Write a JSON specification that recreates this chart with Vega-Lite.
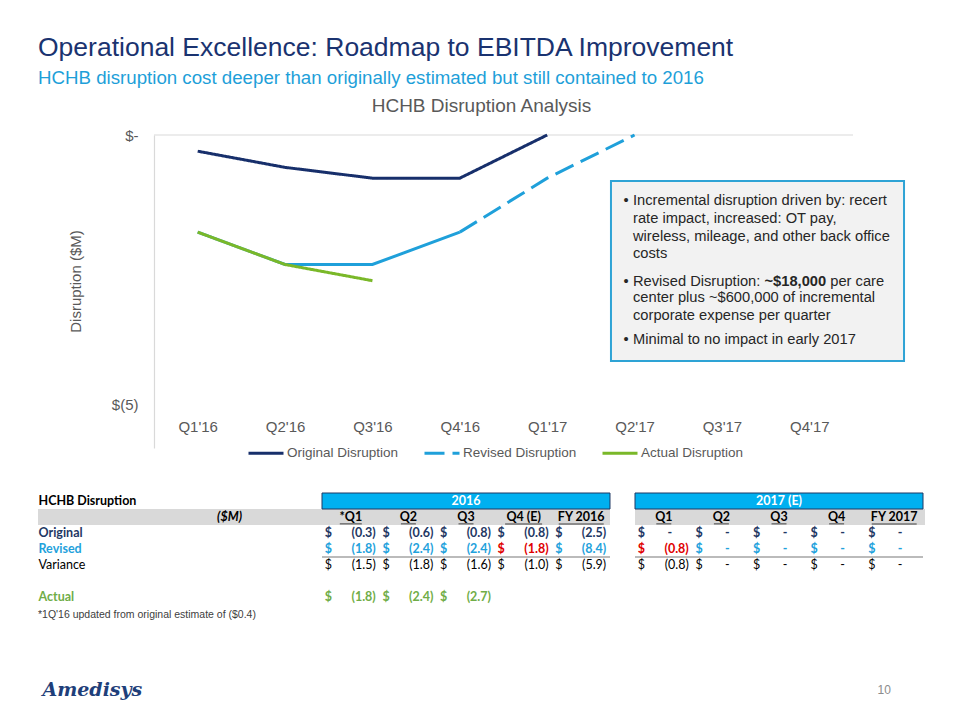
{
  "$schema": "https://vega.github.io/schema/vega-lite/v6.json",
  "padding": {"left": 38, "top": 34, "right": 0, "bottom": 0},
  "background": "white",
  "title": {
    "text": "Operational Excellence: Roadmap to EBITDA Improvement",
    "subtitle": "HCHB disruption cost deeper than originally estimated but still contained to 2016",
    "anchor": "start",
    "frame": "group",
    "font": "Liberation Sans",
    "fontSize": 26.5,
    "fontWeight": "normal",
    "color": "#1A3370",
    "subtitleFont": "Liberation Sans",
    "subtitleFontSize": 18.7,
    "subtitleColor": "#1E9FD9",
    "subtitlePadding": 8,
    "offset": 9
  },
  "datasets": {
    "lines": [
      {"quarter": "Q1'16", "series": "Original Disruption", "value": -0.3},
      {"quarter": "Q2'16", "series": "Original Disruption", "value": -0.6},
      {"quarter": "Q3'16", "series": "Original Disruption", "value": -0.8},
      {"quarter": "Q4'16", "series": "Original Disruption", "value": -0.8},
      {"quarter": "Q1'17", "series": "Original Disruption", "value": 0},
      {"quarter": "Q1'16", "series": "Revised Disruption", "value": -1.8},
      {"quarter": "Q2'16", "series": "Revised Disruption", "value": -2.4},
      {"quarter": "Q3'16", "series": "Revised Disruption", "value": -2.4},
      {"quarter": "Q4'16", "series": "Revised Disruption", "value": -1.8},
      {"quarter": "Q1'17", "series": "Revised Disruption", "value": -0.8},
      {"quarter": "Q2'17", "series": "Revised Disruption", "value": 0},
      {"quarter": "Q1'16", "series": "Actual Disruption", "value": -1.8},
      {"quarter": "Q2'16", "series": "Actual Disruption", "value": -2.4},
      {"quarter": "Q3'16", "series": "Actual Disruption", "value": -2.7}
    ],
    "table": [
      {"row": "Original", "year": "2016", "col": "Q1", "value": -0.3},
      {"row": "Original", "year": "2016", "col": "Q2", "value": -0.6},
      {"row": "Original", "year": "2016", "col": "Q3", "value": -0.8},
      {"row": "Original", "year": "2016", "col": "Q4", "value": -0.8},
      {"row": "Original", "year": "2016", "col": "FY", "value": -2.5},
      {"row": "Revised", "year": "2016", "col": "Q1", "value": -1.8},
      {"row": "Revised", "year": "2016", "col": "Q2", "value": -2.4},
      {"row": "Revised", "year": "2016", "col": "Q3", "value": -2.4},
      {"row": "Revised", "year": "2016", "col": "Q4", "value": -1.8},
      {"row": "Revised", "year": "2016", "col": "FY", "value": -8.4},
      {"row": "Variance", "year": "2016", "col": "Q1", "value": -1.5},
      {"row": "Variance", "year": "2016", "col": "Q2", "value": -1.8},
      {"row": "Variance", "year": "2016", "col": "Q3", "value": -1.6},
      {"row": "Variance", "year": "2016", "col": "Q4", "value": -1.0},
      {"row": "Variance", "year": "2016", "col": "FY", "value": -5.9},
      {"row": "Actual", "year": "2016", "col": "Q1", "value": -1.8},
      {"row": "Actual", "year": "2016", "col": "Q2", "value": -2.4},
      {"row": "Actual", "year": "2016", "col": "Q3", "value": -2.7},
      {"row": "Original", "year": "2017 (E)", "col": "Q1", "value": 0},
      {"row": "Original", "year": "2017 (E)", "col": "Q2", "value": 0},
      {"row": "Original", "year": "2017 (E)", "col": "Q3", "value": 0},
      {"row": "Original", "year": "2017 (E)", "col": "Q4", "value": 0},
      {"row": "Original", "year": "2017 (E)", "col": "FY", "value": 0},
      {"row": "Revised", "year": "2017 (E)", "col": "Q1", "value": -0.8},
      {"row": "Revised", "year": "2017 (E)", "col": "Q2", "value": 0},
      {"row": "Revised", "year": "2017 (E)", "col": "Q3", "value": 0},
      {"row": "Revised", "year": "2017 (E)", "col": "Q4", "value": 0},
      {"row": "Revised", "year": "2017 (E)", "col": "FY", "value": 0},
      {"row": "Variance", "year": "2017 (E)", "col": "Q1", "value": -0.8},
      {"row": "Variance", "year": "2017 (E)", "col": "Q2", "value": 0},
      {"row": "Variance", "year": "2017 (E)", "col": "Q3", "value": 0},
      {"row": "Variance", "year": "2017 (E)", "col": "Q4", "value": 0},
      {"row": "Variance", "year": "2017 (E)", "col": "FY", "value": 0}
    ],
    "headers": [
      {"year": "2016", "col": "Q1", "label": "*Q1"},
      {"year": "2016", "col": "Q2", "label": "Q2"},
      {"year": "2016", "col": "Q3", "label": "Q3"},
      {"year": "2016", "col": "Q4", "label": "Q4 (E)"},
      {"year": "2016", "col": "FY", "label": "FY 2016"},
      {"year": "2017 (E)", "col": "Q1", "label": "Q1"},
      {"year": "2017 (E)", "col": "Q2", "label": "Q2"},
      {"year": "2017 (E)", "col": "Q3", "label": "Q3"},
      {"year": "2017 (E)", "col": "Q4", "label": "Q4"},
      {"year": "2017 (E)", "col": "FY", "label": "FY 2017"}
    ],
    "years": [{"year": "2016"}, {"year": "2017 (E)"}]
  },
  "resolve": {
    "scale": {"color": "independent", "strokeDash": "independent"},
    "legend": {"color": "independent", "strokeDash": "independent"}
  },
  "bounds": "flush",
  "spacing": 45,
  "vconcat": [
    {
      "width": 887,
      "height": 313,
      "title": {"text": "HCHB Disruption Analysis", "font": "Liberation Sans", "fontSize": 19, "fontWeight": "normal", "color": "#595959", "anchor": "middle", "frame": "group", "offset": 12},
      "resolve": {"scale": {"x": "independent"}, "axis": {"x": "independent"}},
      "layer": [
        {
          "layer": [
            {
              "data": {"values": [{"line": "zero"}]},
              "mark": {"type": "rule", "color": "#D9D9D9", "strokeWidth": 1.2},
              "encoding": {
                "x": {"datum": -0.5, "type": "quantitative", "scale": {"domain": [-0.5, 7.5], "range": [116, 815]}, "axis": null},
                "x2": {"datum": 7.5},
                "y": {"datum": 0, "type": "quantitative", "scale": {"domain": [-5.8, 0], "nice": false, "zero": false}}
              }
            },
            {
              "data": {"values": [{"box": "note"}]},
              "mark": {"type": "rect", "fill": "#F2F2F2", "stroke": "#2EA3D5", "strokeWidth": 2},
              "encoding": {
                "x": {"datum": 4.73, "type": "quantitative", "scale": {"domain": [-0.5, 7.5], "range": [116, 815]}, "axis": null},
                "x2": {"datum": 8.084},
                "y": {"datum": -0.852, "type": "quantitative", "scale": {"domain": [-5.8, 0], "nice": false, "zero": false}},
                "y2": {"datum": -4.19}
              }
            },
            {
              "data": {"values": [{"text": "•"}]},
              "mark": {"type": "text", "align": "left", "baseline": "alphabetic", "font": "Liberation Sans", "fontSize": 14.7, "color": "#262626"},
              "encoding": {
                "x": {"datum": 4.872, "type": "quantitative", "scale": {"domain": [-0.5, 7.5], "range": [116, 815]}, "axis": null},
                "y": {"datum": -1.297, "type": "quantitative", "scale": {"domain": [-5.8, 0], "nice": false, "zero": false}},
                "text": {"field": "text"}
              }
            },
            {
              "data": {"values": [{"text": "•"}]},
              "mark": {"type": "text", "align": "left", "baseline": "alphabetic", "font": "Liberation Sans", "fontSize": 14.7, "color": "#262626"},
              "encoding": {
                "x": {"datum": 4.872, "type": "quantitative", "scale": {"domain": [-0.5, 7.5], "range": [116, 815]}, "axis": null},
                "y": {"datum": -2.798, "type": "quantitative", "scale": {"domain": [-5.8, 0], "nice": false, "zero": false}},
                "text": {"field": "text"}
              }
            },
            {
              "data": {"values": [{"text": "•"}]},
              "mark": {"type": "text", "align": "left", "baseline": "alphabetic", "font": "Liberation Sans", "fontSize": 14.7, "color": "#262626"},
              "encoding": {
                "x": {"datum": 4.872, "type": "quantitative", "scale": {"domain": [-0.5, 7.5], "range": [116, 815]}, "axis": null},
                "y": {"datum": -3.878, "type": "quantitative", "scale": {"domain": [-5.8, 0], "nice": false, "zero": false}},
                "text": {"field": "text"}
              }
            },
            {
              "data": {"values": [{"text": "Incremental disruption driven by: recert\nrate impact, increased: OT pay,\nwireless, mileage, and other back office\ncosts"}]},
              "mark": {"type": "text", "align": "left", "baseline": "alphabetic", "lineBreak": "\n", "lineHeight": 17.8, "font": "Liberation Sans", "fontSize": 14.7, "color": "#262626"},
              "encoding": {
                "x": {"datum": 4.982, "type": "quantitative", "scale": {"domain": [-0.5, 7.5], "range": [116, 815]}, "axis": null},
                "y": {"datum": -1.297, "type": "quantitative", "scale": {"domain": [-5.8, 0], "nice": false, "zero": false}},
                "text": {"field": "text"}
              }
            },
            {
              "data": {"values": [{"text": "Revised Disruption:"}]},
              "mark": {"type": "text", "align": "left", "baseline": "alphabetic", "font": "Liberation Sans", "fontSize": 14.7, "color": "#262626"},
              "encoding": {
                "x": {"datum": 4.982, "type": "quantitative", "scale": {"domain": [-0.5, 7.5], "range": [116, 815]}, "axis": null},
                "y": {"datum": -2.798, "type": "quantitative", "scale": {"domain": [-5.8, 0], "nice": false, "zero": false}},
                "text": {"field": "text"}
              }
            },
            {
              "data": {"values": [{"text": "~$18,000"}]},
              "mark": {"type": "text", "align": "left", "baseline": "alphabetic", "font": "Liberation Sans", "fontWeight": "bold", "fontSize": 14.7, "color": "#262626"},
              "encoding": {
                "x": {"datum": 6.487, "type": "quantitative", "scale": {"domain": [-0.5, 7.5], "range": [116, 815]}, "axis": null},
                "y": {"datum": -2.798, "type": "quantitative", "scale": {"domain": [-5.8, 0], "nice": false, "zero": false}},
                "text": {"field": "text"}
              }
            },
            {
              "data": {"values": [{"text": "per care"}]},
              "mark": {"type": "text", "align": "left", "baseline": "alphabetic", "font": "Liberation Sans", "fontSize": 14.7, "color": "#262626"},
              "encoding": {
                "x": {"datum": 7.24, "type": "quantitative", "scale": {"domain": [-0.5, 7.5], "range": [116, 815]}, "axis": null},
                "y": {"datum": -2.798, "type": "quantitative", "scale": {"domain": [-5.8, 0], "nice": false, "zero": false}},
                "text": {"field": "text"}
              }
            },
            {
              "data": {"values": [{"text": "center plus ~$600,000 of incremental\ncorporate expense per quarter"}]},
              "mark": {"type": "text", "align": "left", "baseline": "alphabetic", "lineBreak": "\n", "lineHeight": 17.8, "font": "Liberation Sans", "fontSize": 14.7, "color": "#262626"},
              "encoding": {
                "x": {"datum": 4.982, "type": "quantitative", "scale": {"domain": [-0.5, 7.5], "range": [116, 815]}, "axis": null},
                "y": {"datum": -3.1, "type": "quantitative", "scale": {"domain": [-5.8, 0], "nice": false, "zero": false}},
                "text": {"field": "text"}
              }
            },
            {
              "data": {"values": [{"text": "Minimal to no impact in early 2017"}]},
              "mark": {"type": "text", "align": "left", "baseline": "alphabetic", "font": "Liberation Sans", "fontSize": 14.7, "color": "#262626"},
              "encoding": {
                "x": {"datum": 4.982, "type": "quantitative", "scale": {"domain": [-0.5, 7.5], "range": [116, 815]}, "axis": null},
                "y": {"datum": -3.878, "type": "quantitative", "scale": {"domain": [-5.8, 0], "nice": false, "zero": false}},
                "text": {"field": "text"}
              }
            }
          ]
        },
        {
          "data": {"name": "lines"},
          "layer": [
            {
              "transform": [{"filter": {"and": [{"field": "series", "equal": "Revised Disruption"}, {"field": "quarter", "oneOf": ["Q1'16", "Q2'16", "Q3'16", "Q4'16"]}]}}],
              "mark": {"type": "line", "strokeWidth": 3, "color": "#1FA0DA"},
              "encoding": {
                "x": {"field": "quarter", "type": "ordinal", "scale": {"type": "point", "domain": ["Q1'16", "Q2'16", "Q3'16", "Q4'16", "Q1'17", "Q2'17", "Q3'17", "Q4'17"], "range": [116, 815], "padding": 0.5}, "axis": {"title": null, "offset": -31, "domain": false, "ticks": false, "labelPadding": 2, "labelAngle": 0, "labelFont": "Liberation Sans", "labelFontSize": 15, "labelColor": "#595959"}},
                "y": {"field": "value", "type": "quantitative", "scale": {"domain": [-5.8, 0], "nice": false, "zero": false}, "axis": {"values": [0, -5], "labelExpr": "datum.value == 0 ? '$-' : '$(' + abs(datum.value) + ')'", "offset": -116, "domainColor": "#D9D9D9", "domainWidth": 1.2, "ticks": false, "grid": false, "labelPadding": 16, "labelFont": "Liberation Sans", "labelFontSize": 15, "labelColor": "#595959", "title": "Disruption ($M)", "titleFont": "Liberation Sans", "titleFontSize": 15, "titleFontWeight": "normal", "titleColor": "#595959", "titlePadding": 28, "titleY": 146}}
              }
            },
            {
              "transform": [{"filter": {"or": [{"not": {"field": "series", "equal": "Revised Disruption"}}, {"field": "quarter", "oneOf": ["Q4'16", "Q1'17", "Q2'17"]}]}}],
              "mark": {"type": "line", "strokeWidth": 3},
              "encoding": {
                "x": {"field": "quarter", "type": "ordinal", "scale": {"type": "point", "domain": ["Q1'16", "Q2'16", "Q3'16", "Q4'16", "Q1'17", "Q2'17", "Q3'17", "Q4'17"], "range": [116, 815], "padding": 0.5}, "axis": {"title": null, "offset": -31, "domain": false, "ticks": false, "labelPadding": 2, "labelAngle": 0, "labelFont": "Liberation Sans", "labelFontSize": 15, "labelColor": "#595959"}},
                "y": {"field": "value", "type": "quantitative", "scale": {"domain": [-5.8, 0], "nice": false, "zero": false}},
                "color": {"field": "series", "type": "nominal", "scale": {"domain": ["Original Disruption", "Revised Disruption", "Actual Disruption"], "range": ["#172F6B", "#1FA0DA", "#7AB829"]}, "legend": {"title": null, "orient": "none", "legendX": 209, "legendY": 299, "direction": "horizontal", "symbolType": "stroke", "symbolStrokeWidth": 3, "symbolSize": 1225, "labelFont": "Liberation Sans", "labelFontSize": 13.5, "labelColor": "#595959", "labelOffset": 2, "columnPadding": 19}},
                "strokeDash": {"field": "series", "type": "nominal", "scale": {"domain": ["Original Disruption", "Revised Disruption", "Actual Disruption"], "range": [[1, 0], [20, 8], [1, 0]]}, "legend": {"title": null, "orient": "none", "legendX": 209, "legendY": 299, "direction": "horizontal", "symbolType": "stroke", "symbolStrokeWidth": 3, "symbolSize": 1225, "labelFont": "Liberation Sans", "labelFontSize": 13.5, "labelColor": "#595959", "labelOffset": 2, "columnPadding": 19}}
              }
            }
          ]
        }
      ]
    },
    {
      "width": 887,
      "height": 112,
      "title": {"text": "*1Q'16 updated from original estimate of ($0.4)", "orient": "bottom", "anchor": "start", "frame": "group", "font": "Liberation Sans", "fontSize": 10.5, "fontWeight": "normal", "color": "#404040", "offset": 5},
      "layer": [
        {
          "data": {"values": [{"row": "($M)"}]},
          "mark": {"type": "bar", "color": "#D9D9D9"},
          "encoding": {
            "y": {"field": "row", "type": "nominal", "scale": {"type": "band", "domain": ["HCHB Disruption", "($M)", "Original", "Revised", "Variance", "", "Actual"], "paddingInner": 0, "paddingOuter": 0}, "axis": {"title": null, "domain": false, "ticks": false, "tickSize": 0, "labelPadding": 0, "labelAlign": "left", "labelBaseline": "middle", "zindex": 2, "labelExpr": "datum.value == '($M)' ? '' : datum.value", "labelFont": "Lato", "labelFontSize": 12.5, "labelFontWeight": {"condition": {"test": "datum.value == 'Variance'", "value": "normal"}, "value": "bold"}, "labelColor": {"condition": [{"test": "datum.value == 'Original'", "value": "#1F3864"}, {"test": "datum.value == 'Revised'", "value": "#1FA2DC"}, {"test": "datum.value == 'Actual'", "value": "#70AD47"}], "value": "#000000"}}}
          }
        },
        {
          "data": {"values": [{"row": "($M)"}]},
          "mark": {"type": "rect", "color": "white"},
          "encoding": {
            "y": {"field": "row", "type": "nominal"},
            "x": {"datum": "2016", "type": "nominal", "bandPosition": 1, "scale": {"type": "band", "domain": ["2016", "2017 (E)"], "range": [284, 885], "paddingInner": 0.0799, "paddingOuter": 0}, "axis": null},
            "x2": {"datum": "2017 (E)", "bandPosition": 0}
          }
        },
        {
          "data": {"name": "years"},
          "mark": {"type": "rect", "fill": "#00B0F0", "stroke": "#1F3864", "strokeWidth": 1},
          "encoding": {
            "x": {"field": "year", "type": "nominal", "scale": {"type": "band", "domain": ["2016", "2017 (E)"], "range": [284, 885], "paddingInner": 0.0799, "paddingOuter": 0}, "axis": null},
            "y": {"datum": "HCHB Disruption", "type": "nominal"}
          }
        },
        {
          "data": {"name": "years"},
          "mark": {"type": "text", "font": "Lato", "fontWeight": "bold", "fontSize": 12.5, "color": "white"},
          "encoding": {
            "x": {"field": "year", "type": "nominal"},
            "y": {"datum": "HCHB Disruption", "type": "nominal"},
            "text": {"field": "year"}
          }
        },
        {
          "data": {"values": [{"unit": "($M)"}]},
          "mark": {"type": "text", "align": "right", "dx": -80, "font": "Lato", "fontWeight": "bold", "fontStyle": "italic", "fontSize": 12.5, "color": "#000000"},
          "encoding": {
            "x": {"datum": "2016", "type": "nominal", "bandPosition": 0},
            "y": {"field": "unit", "type": "nominal"},
            "text": {"field": "unit"}
          }
        },
        {
          "data": {"name": "headers"},
          "mark": {"type": "text", "font": "Lato", "fontWeight": "bold", "fontSize": 12.5, "color": "#000000"},
          "encoding": {
            "x": {"field": "year", "type": "nominal"},
            "xOffset": {"field": "col", "type": "nominal", "scale": {"type": "band", "domain": ["Q1", "Q2", "Q3", "Q4", "FY"], "paddingInner": 0, "paddingOuter": 0}},
            "y": {"datum": "($M)", "type": "nominal"},
            "text": {"field": "label"}
          }
        },
        {
          "data": {"name": "headers"},
          "mark": {"type": "tick", "orient": "horizontal", "thickness": 1, "color": "#000000"},
          "encoding": {
            "x": {"field": "year", "type": "nominal"},
            "xOffset": {"field": "col", "type": "nominal"},
            "y": {"datum": "($M)", "type": "nominal", "bandPosition": 0.93},
            "size": {"condition": [{"test": "datum.label == 'FY 2016' || datum.label == 'FY 2017'", "value": 45}, {"test": "datum.label == 'Q4 (E)'", "value": 37}, {"test": "datum.label == '*Q1'", "value": 22}], "value": 15}
          }
        },
        {
          "data": {"name": "table"},
          "transform": [{"filter": {"not": {"field": "row", "equal": "Variance"}}}],
          "mark": {"type": "text", "align": "left", "dx": -26, "font": "Lato", "fontWeight": "bold", "fontSize": 12.5},
          "encoding": {
            "x": {"field": "year", "type": "nominal"},
            "xOffset": {"field": "col", "type": "nominal"},
            "y": {"field": "row", "type": "nominal"},
            "text": {"value": "$"},
            "color": {"condition": {"test": "datum.row == 'Revised' && ((datum.year == '2016' && datum.col == 'Q4') || (datum.year == '2017 (E)' && datum.col == 'Q1'))", "value": "#E00000"}, "field": "row", "type": "nominal", "scale": {"domain": ["Original", "Revised", "Variance", "Actual"], "range": ["#1F3864", "#1FA2DC", "#000000", "#70AD47"]}, "legend": null}
          }
        },
        {
          "data": {"name": "table"},
          "transform": [{"filter": "datum.row != 'Variance' && datum.value != 0"}],
          "mark": {"type": "text", "align": "right", "dx": 25, "font": "Lato", "fontWeight": "bold", "fontSize": 12.5},
          "encoding": {
            "x": {"field": "year", "type": "nominal"},
            "xOffset": {"field": "col", "type": "nominal"},
            "y": {"field": "row", "type": "nominal"},
            "text": {"field": "value", "type": "quantitative", "format": "(.1f"},
            "color": {"condition": {"test": "datum.row == 'Revised' && ((datum.year == '2016' && datum.col == 'Q4') || (datum.year == '2017 (E)' && datum.col == 'Q1'))", "value": "#E00000"}, "field": "row", "type": "nominal", "legend": null}
          }
        },
        {
          "data": {"name": "table"},
          "transform": [{"filter": "datum.row != 'Variance' && datum.value == 0"}],
          "mark": {"type": "text", "align": "center", "dx": 6, "font": "Lato", "fontWeight": "bold", "fontSize": 12.5},
          "encoding": {
            "x": {"field": "year", "type": "nominal"},
            "xOffset": {"field": "col", "type": "nominal"},
            "y": {"field": "row", "type": "nominal"},
            "text": {"value": "-"},
            "color": {"field": "row", "type": "nominal", "legend": null}
          }
        },
        {
          "data": {"name": "table"},
          "transform": [{"filter": {"field": "row", "equal": "Variance"}}],
          "mark": {"type": "text", "align": "left", "dx": -26, "font": "Lato", "fontSize": 12.5, "color": "#000000"},
          "encoding": {
            "x": {"field": "year", "type": "nominal"},
            "xOffset": {"field": "col", "type": "nominal"},
            "y": {"field": "row", "type": "nominal"},
            "text": {"value": "$"}
          }
        },
        {
          "data": {"name": "table"},
          "transform": [{"filter": "datum.row == 'Variance' && datum.value != 0"}],
          "mark": {"type": "text", "align": "right", "dx": 25, "font": "Lato", "fontSize": 12.5, "color": "#000000"},
          "encoding": {
            "x": {"field": "year", "type": "nominal"},
            "xOffset": {"field": "col", "type": "nominal"},
            "y": {"field": "row", "type": "nominal"},
            "text": {"field": "value", "type": "quantitative", "format": "(.1f"}
          }
        },
        {
          "data": {"name": "table"},
          "transform": [{"filter": "datum.row == 'Variance' && datum.value == 0"}],
          "mark": {"type": "text", "align": "center", "dx": 6, "font": "Lato", "fontSize": 12.5, "color": "#000000"},
          "encoding": {
            "x": {"field": "year", "type": "nominal"},
            "xOffset": {"field": "col", "type": "nominal"},
            "y": {"field": "row", "type": "nominal"},
            "text": {"value": "-"}
          }
        },
        {
          "data": {"name": "years"},
          "mark": {"type": "tick", "orient": "horizontal", "size": 288, "thickness": 1.5, "color": "#7F7F7F"},
          "encoding": {
            "x": {"field": "year", "type": "nominal"},
            "y": {"datum": "Variance", "type": "nominal", "bandPosition": 0}
          }
        }
      ]
    },
    {
      "width": 887,
      "height": 80,
      "data": {"values": [{"item": "Amedisys"}, {"item": "10"}]},
      "layer": [
        {
          "transform": [{"filter": {"field": "item", "equal": "Amedisys"}}],
          "mark": {"type": "text", "align": "left", "font": "DejaVu Serif", "fontStyle": "italic", "fontWeight": "bold", "fontSize": 19, "color": "#1F3F7A"},
          "encoding": {
            "x": {"datum": 0.005, "type": "quantitative", "scale": {"domain": [0, 1]}, "axis": null},
            "text": {"field": "item"}
          }
        },
        {
          "transform": [{"filter": {"field": "item", "equal": "10"}}],
          "mark": {"type": "text", "align": "center", "font": "Liberation Sans", "fontSize": 12, "color": "#8C8C8C"},
          "encoding": {
            "x": {"datum": 0.954, "type": "quantitative", "scale": {"domain": [0, 1]}, "axis": null},
            "text": {"field": "item"}
          }
        }
      ]
    }
  ],
  "config": {
    "view": {"stroke": null},
    "font": "Liberation Sans"
  }
}
